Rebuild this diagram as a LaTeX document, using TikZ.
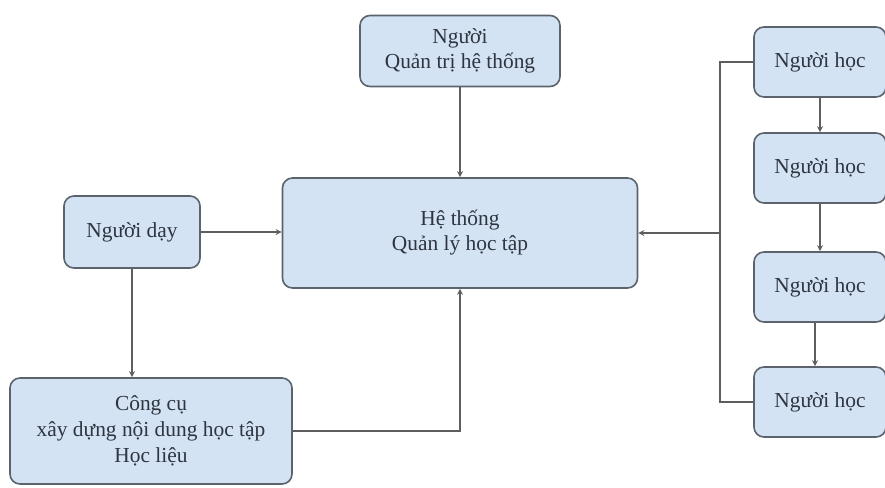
\documentclass[tikz,border=0pt]{standalone}
\usepackage{fontspec}
\setmainfont{Liberation Serif}
\usetikzlibrary{arrows.meta, calc}
\definecolor{boxFill}{HTML}{D3E3F3}
\definecolor{boxEdge}{HTML}{5B636C}
\definecolor{lineGray}{HTML}{5E5E5E}
\definecolor{textDark}{HTML}{2E3540}
\tikzset{
    % Boxes
    lmsBox/.style={
        rectangle, rounded corners=5pt, draw=boxEdge, line width=0.8pt, fill=boxFill,
        align=center, inner sep=0pt, text=textDark,
        font=\fontsize{10.7}{12.5}\selectfont
    },
    % Connectors
    link/.style={draw=lineGray, line width=0.8pt},
    flow/.style={link, -{Stealth[length=3pt, width=3pt]}}
}
\begin{document}
\begin{tikzpicture}[x=0.5pt, y=-0.5pt]
    \useasboundingbox (0,0) rectangle (885,488);

    % Centre
    \node[lmsBox, minimum width=177.5pt, minimum height=55pt] (lms) at (460,233) {Hệ thống\\Quản lý học tập};

    % Admin
    \node[lmsBox, minimum width=100pt, minimum height=35.5pt] (admin) at (460,51) {Người\\Quản trị hệ thống};

    % Teacher and tool
    \node[lmsBox, minimum width=68pt, minimum height=36pt] (teacher) at (132,232) {Người dạy};
    \node[lmsBox, minimum width=141pt, minimum height=53pt, font=\fontsize{10.7}{13}\selectfont] (tool) at (151,431) {Công cụ\\xây dựng nội dung học tập\\Học liệu};

    % Learners
    \node[lmsBox, minimum width=66pt, minimum height=35pt] (learnerA) at (820,62) {Người học};
    \node[lmsBox, minimum width=66pt, minimum height=35pt] (learnerB) at (820,168) {Người học};
    \node[lmsBox, minimum width=66pt, minimum height=35pt] (learnerC) at (820,287) {Người học};
    \node[lmsBox, minimum width=66pt, minimum height=35pt] (learnerD) at (820,402) {Người học};
    \coordinate (bus) at (720,233);

    % Connectors
    \draw[flow] (admin) -- (lms);
    \draw[flow] (teacher.east) -- (teacher.east -| lms.west);
    \draw[flow] (teacher.south) -- (teacher.south |- tool.north);
    \draw[flow] (tool.east) -| (lms.south);
    \draw[link] (learnerA.west) -| (bus) |- (learnerD.west);
    \draw[flow] (bus) -- (lms.east);
    \draw[flow] (learnerA) -- (learnerB);
    \draw[flow] (learnerB) -- (learnerC);
    \draw[flow] ([xshift=-2.5pt]learnerC.south) -- ([xshift=-2.5pt]learnerD.north);
\end{tikzpicture}
\end{document}
